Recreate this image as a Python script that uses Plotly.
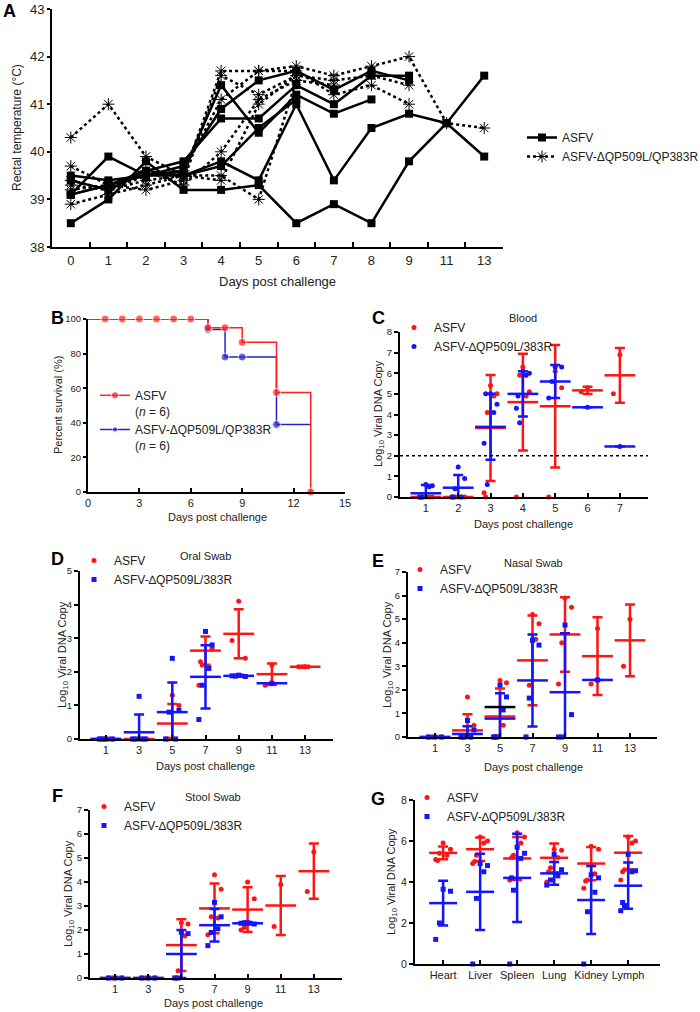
import numpy as np
import plotly.graph_objects as go

FONT = "Liberation Sans, Arial, sans-serif"
RED = "#ff1414"
BLUE = "#1414ff"
SURV_RED = "#ff2020"
SURV_BLUE = "#2323c8"
W, H = 700, 1012


def px(x):
    return x / W


def py(y):
    return 1 - y / H


# ---------------- A: rectal temperature ----------------
temp_days = ["0", "1", "2", "3", "4", "5", "6", "7", "8", "9", "11", "13"]
asfv_temps = [
    [39.1, 39.3, 39.5, 39.6, 41.4, 40.4, 41.2, 40.8, 41.1, None, None, None],
    [39.5, 39.4, 39.5, 39.7, 40.9, 41.5, 41.7, 41.3, 41.7, 41.5, None, None],
    [39.4, 39.2, 39.6, 39.8, 40.7, 40.7, 41.4, 41.0, 41.6, 41.6, None, None],
    [39.1, 39.9, 39.5, 39.5, 39.8, 39.4, 41.0, 39.4, 40.5, 40.8, 40.6, 39.9],
    [38.5, 39.0, 39.8, 39.2, 39.2, 39.3, 38.5, 38.9, 38.5, 39.8, 40.6, 41.6],
    [39.1, 39.3, 39.6, 39.5, 39.7, 40.5, 41.1, None, None, None, None, None],
]
mut_temps = [
    [40.3, 41.0, 39.9, 39.5, 41.7, 41.7, 41.8, 41.6, 41.8, 42.0, 40.6, 40.5],
    [39.7, 39.3, 39.2, 39.4, 41.6, 41.2, 41.6, 41.5, 41.6, 41.4, None, None],
    [39.4, 39.2, 39.5, 39.6, 41.1, 41.7, 41.7, 41.2, 41.4, 41.0, None, None],
    [39.2, 39.3, 39.6, 39.3, 40.0, 41.1, 41.5, 41.4, None, None, None, None],
    [38.9, 39.1, 39.3, 39.5, 39.5, 39.0, 41.5, None, None, None, None, None],
    [39.3, 39.2, 39.4, 39.5, 39.4, 41.0, 41.6, None, None, None, None, None],
]

# ---------------- B: survival ----------------
surv_asfv_days = [0, 1, 2, 3, 4, 5, 6, 7, 8, 9, 11, 13]
surv_asfv = [100, 100, 100, 100, 100, 100, 100, 95, 95, 86.5, 57.5, 0]
surv_mut_days = [0, 7, 8, 9, 11, 13]
surv_mut = [100, 94, 78, 78, 39, 39]

# ---------------- C: blood ----------------
blood_days = ["1", "2", "3", "4", "5", "6", "7"]
blood_asfv_pts = [[0, 0, 0, 0, 0, 0], [0, 0, 0, 0, 0, 0], [5.4, 0.2, 5.0, 4.1, 4.9, 0],
                  [6.3, 0, 5.1, 5.9, 4.9], [6.1, 0, 5.3], [5.3, 5.1], [6.9, 5.0]]
blood_asfv_mean = [0, 0, 3.35, 4.6, 4.4, 5.17, 5.9]
blood_asfv_sd = [0, 0, 2.57, 2.35, 2.97, 0.18, 1.33]
blood_mut_pts = [[0.6, 0, 0.55, 0, 0.5, 0], [1.45, 0, 0.9, 0.4, 0, 0], [5.0, 2.6, 4.5, 0.6, 4.1, 5.0],
                 [6.1, 4.3, 6.0, 3.6, 5.9, 4.9], [6.3, 4.8, 6.3, 5.6], [4.35], [2.45]]
blood_mut_mean = [0.18, 0.45, 3.4, 5.0, 5.6, 4.35, 2.45]
blood_mut_sd = [0.4, 0.62, 1.6, 1.1, 0.8, 0, 0]
blood_cutoff = 2

# ---------------- D: oral swab ----------------
swab_days = ["1", "3", "5", "7", "9", "11", "13"]
oral_asfv_pts = [[0, 0, 0, 0, 0, 0], [0, 0, 0, 0, 0], [1.3, 0, 1.0, 0, 0, 0],
                 [3.2, 1.6, 2.7, 2.2, 2.15, 2.3], [4.1, 2.93, 2.4], [2.2, 1.6], [2.15, 2.15]]
oral_asfv_mean = [0, 0, 0.46, 2.63, 3.13, 1.93, 2.15]
oral_asfv_sd = [0, 0, 0.58, 0.42, 0.73, 0.32, 0.03]
oral_mut_pts = [[0, 0, 0, 0], [1.27, 0, 0, 0, 0], [2.4, 0, 0.85, 0.8, 0],
                [3.2, 0.58, 2.8, 1.6, 2.1], [1.9, 1.88, 1.86, 1.87], [1.66], []]
oral_mut_mean = [0, 0.2, 0.8, 1.85, 1.88, 1.66, None]
oral_mut_sd = [0, 0.53, 0.88, 0.94, 0.03, 0, 0]

# ---------------- E: nasal swab ----------------
nasal_asfv_pts = [[0, 0, 0, 0], [1.7, 0, 0.5, 0, 0, 0], [2.4, 0, 2.3, 0, 0.5, 0],
                  [5.2, 0, 4.8, 2.2, 4.15], [5.9, 2.25, 5.5, 4.0], [4.6, 2.25], [5.0, 3.0]]
nasal_asfv_mean = [0, 0.28, 0.87, 3.25, 4.35, 3.43, 4.1]
nasal_asfv_sd = [0, 0.69, 1.19, 1.9, 1.58, 1.65, 1.52]
nasal_mut_pts = [[0, 0, 0], [0.7, 0, 0.3, 0, 0], [2.2, 0, 1.7, 0, 1.15, 0],
                 [4.1, 0, 3.9, 1.65], [4.75, 0, 0.95, 0], [2.42], []]
nasal_mut_mean = [0, 0.13, 0.78, 2.4, 1.9, 2.42, None]
nasal_mut_sd = [0, 0.33, 1.08, 1.95, 2.5, 0, 0]
nasal_pooled_mean = [None, None, 1.27, None, None, None, None]

# ---------------- F: stool swab ----------------
stool_asfv_pts = [[0, 0, 0, 0], [0, 0, 0, 0], [2.3, 0, 2.25, 0.3, 1.75, 0],
                  [4.3, 1.8, 3.7, 2.55, 2.5], [4.0, 2.0, 3.3, 2.1], [3.9, 2.15], [5.25, 3.6]]
stool_asfv_mean = [0, 0, 1.37, 2.9, 2.85, 3.02, 4.45]
stool_asfv_sd = [0, 0, 1.08, 1.04, 0.93, 1.23, 1.15]
stool_mut_pts = [[0, 0, 0], [0, 0, 0], [1.9, 0, 1.85, 0],
                 [3.15, 1.35, 2.55, 1.9, 2.05], [2.3, 2.28, 2.25, 2.3], [], []]
stool_mut_mean = [0, 0, 1.0, 2.2, 2.28, None, None]
stool_mut_sd = [0, 0, 1.0, 0.68, 0.05, 0, 0]

# ---------------- G: tissues ----------------
tissues = ["Heart", "Liver", "Spleen", "Lung", "Kidney", "Lymph"]
tissue_asfv_pts = [[5.9, 5.1, 5.6, 5.4, 5.3, 5.05], [6.2, 4.9, 6.0, 5.3, 5.9, 5.0],
                   [6.4, 4.1, 6.2, 5.3, 5.9, 5.2], [5.6, 4.0, 5.55, 4.7, 5.2, 4.5],
                   [5.75, 3.7, 5.6, 4.1, 4.4, 4.05], [6.2, 4.1, 6.0, 4.6, 5.9, 4.5]]
tissue_asfv_mean = [5.42, 5.6, 5.15, 5.18, 4.9, 5.43]
tissue_asfv_sd = [0.31, 0.57, 1.05, 0.7, 0.81, 0.81]
tissue_mut_pts = [[3.65, 1.2, 3.55, 2.0], [4.9, 0, 4.8, 3.2, 4.5], [5.7, 0, 5.4, 3.6, 5.15, 4.2],
                  [5.35, 3.85, 4.6, 4.1, 4.3], [4.35, 0, 4.2, 2.55, 3.5], [5.35, 2.6, 4.55, 2.85, 4.5, 3.0]]
tissue_mut_mean = [2.97, 3.52, 4.2, 4.42, 3.12, 3.82]
tissue_mut_sd = [1.09, 1.86, 2.15, 0.56, 1.66, 1.13]

ASFV_NAME = "ASFV"
MUT_NAME = "ASFV-∆QP509L/383R"

fig = go.Figure()

# ---- A traces (mutants first so solid lines sit on top) ----
for i, vals in enumerate(mut_temps):
    fig.add_trace(go.Scatter(
        x=temp_days, y=vals, mode="lines+markers", name="ASFV-ΔQP509L/QP383R",
        line=dict(color="black", width=2.5, dash="dot"),
        marker=dict(symbol="asterisk-open", size=10, line=dict(color="black", width=1)),
        xaxis="x", yaxis="y", legend="legend", legendrank=2, showlegend=(i == 0),
        legendgroup="mutA", cliponaxis=False))
for i, vals in enumerate(asfv_temps):
    fig.add_trace(go.Scatter(
        x=temp_days, y=vals, mode="lines+markers", name="ASFV",
        line=dict(color="black", width=2.5),
        marker=dict(symbol="square", size=8, color="black"),
        xaxis="x", yaxis="y", legend="legend", legendrank=1, showlegend=(i == 0),
        legendgroup="asfvA", cliponaxis=False))

# ---- B traces ----
fig.add_trace(go.Scatter(
    x=surv_mut_days, y=surv_mut, mode="lines+markers", line_shape="hv",
    name="ASFV-ΔQP509L/QP383R<br>(<i>n</i> = 6)",
    line=dict(color=SURV_BLUE, width=1.5),
    marker=dict(size=[0, 8, 8, 8, 8, 0], color=SURV_BLUE),
    xaxis="x2", yaxis="y2", legend="legend2", legendrank=2, cliponaxis=False))
fig.add_trace(go.Scatter(
    x=surv_asfv_days, y=surv_asfv, mode="lines+markers", line_shape="hv",
    name="ASFV<br>(<i>n</i> = 6)",
    line=dict(color=SURV_RED, width=1.5),
    marker=dict(size=[0] + [8] * (len(surv_asfv) - 1), color=SURV_RED),
    xaxis="x2", yaxis="y2", legend="legend2", legendrank=1, cliponaxis=False))

# ---- dot + mean/SD panels ----
SPREAD = [0, -1, 1, -0.5, 0.5, -0.75, 0.75, -0.25, 0.25]


def jittered(groups, s):
    xs, ys = [], []
    for k, pts in enumerate(groups):
        for j, v in enumerate(pts):
            xs.append(k + SPREAD[j] * s)
            ys.append(v)
    return xs, ys


def add_group(n, groups, mean, sd, color, name, symbol, barw, leg):
    xs, ys = jittered(groups, 0.2)
    fig.add_trace(go.Scatter(
        x=xs, y=ys, mode="markers", name=name,
        marker=dict(symbol=symbol, size=5, color=color),
        xaxis="x%d" % n, yaxis="y%d" % n, legend=leg, cliponaxis=False))
    fig.add_trace(go.Scatter(
        x=list(range(len(mean))), y=mean, mode="markers", showlegend=False,
        marker=dict(symbol="line-ew", size=barw, line=dict(color=color, width=2.5)),
        error_y=dict(type="data", array=sd, color=color, thickness=2.5, width=5),
        xaxis="x%d" % n, yaxis="y%d" % n))


panels = [
    (3, blood_asfv_pts, blood_asfv_mean, blood_asfv_sd, blood_mut_pts, blood_mut_mean, blood_mut_sd, "circle", 22),
    (4, oral_asfv_pts, oral_asfv_mean, oral_asfv_sd, oral_mut_pts, oral_mut_mean, oral_mut_sd, "square", 22),
    (5, nasal_asfv_pts, nasal_asfv_mean, nasal_asfv_sd, nasal_mut_pts, nasal_mut_mean, nasal_mut_sd, "square", 22),
    (6, stool_asfv_pts, stool_asfv_mean, stool_asfv_sd, stool_mut_pts, stool_mut_mean, stool_mut_sd, "square", 22),
    (7, tissue_asfv_pts, tissue_asfv_mean, tissue_asfv_sd, tissue_mut_pts, tissue_mut_mean, tissue_mut_sd, "square", 20),
]
for n, ap, am, asd, mp, mm, msd, sym, bw in panels:
    leg = "legend%d" % n
    add_group(n, ap, am, asd, RED, ASFV_NAME, "circle", bw, leg)
    add_group(n, mp, mm, msd, BLUE, MUT_NAME, sym, bw, leg)

# black pooled mean bar seen in the nasal panel
fig.add_trace(go.Scatter(
    x=list(range(len(nasal_pooled_mean))), y=nasal_pooled_mean, mode="markers", showlegend=False,
    marker=dict(symbol="line-ew", size=22, line=dict(color="black", width=2.5)),
    xaxis="x5", yaxis="y5"))


# ---------------- axes ----------------
def xaxis_cfg(dom, anchor, rng, tickvals=None, ticktext=None, fs=11, **kw):
    d = dict(domain=dom, anchor=anchor, range=rng, showline=True, linecolor="black", linewidth=2,
             ticks="inside", ticklen=4, tickwidth=2, tickcolor="black", showgrid=False,
             zeroline=False, tickfont=dict(family=FONT, size=fs, color="#222"), fixedrange=True,
             tickangle=0, automargin=False)
    if tickvals is not None:
        d.update(tickmode="array", tickvals=tickvals, ticktext=ticktext)
    d.update(kw)
    return d


def yaxis_cfg(dom, anchor, rng, dtick, fs=9.5, **kw):
    d = dict(domain=dom, anchor=anchor, range=rng, dtick=dtick, showline=True, linecolor="black",
             linewidth=2, ticks="outside", ticklen=4, tickwidth=2, tickcolor="black",
             showgrid=False, zeroline=False, tickfont=dict(family=FONT, size=fs, color="#222"),
             fixedrange=True, automargin=False)
    d.update(kw)
    return d


def idx(n):
    return list(range(n))


layout = dict(
    width=W, height=H, margin=dict(l=0, r=0, t=0, b=0, autoexpand=False),
    paper_bgcolor="white", plot_bgcolor="white",
    font=dict(family=FONT, color="#222"),
    xaxis=xaxis_cfg([px(52), px(503)], "y", [-0.5, 11.5], fs=13, type="category",
                    tickson="boundaries", ticklen=5),
    yaxis=yaxis_cfg([py(247), py(9)], "x", [38, 43], 1, fs=13, ticklen=3),
    xaxis2=xaxis_cfg([px(88), px(345)], "y2", [0, 15], fs=11, dtick=3),
    yaxis2=yaxis_cfg([py(492), py(319)], "x2", [0, 100], 20, fs=9.5, ticklen=3),
    xaxis3=xaxis_cfg([px(400), px(648)], "y3", [-0.8, 6.87], idx(7), blood_days),
    yaxis3=yaxis_cfg([py(497), py(332)], "x3", [0, 8], 1),
    xaxis4=xaxis_cfg([px(80), px(333)], "y4", [-0.78, 6.84], idx(7), swab_days),
    yaxis4=yaxis_cfg([py(739), py(571)], "x4", [0, 5], 1),
    xaxis5=xaxis_cfg([px(408), px(657)], "y5", [-0.83, 6.83], idx(7), swab_days),
    yaxis5=yaxis_cfg([py(737), py(572)], "x5", [0, 7], 1),
    xaxis6=xaxis_cfg([px(90), px(342)], "y6", [-0.76, 6.85], idx(7), swab_days),
    yaxis6=yaxis_cfg([py(978), py(810)], "x6", [0, 7], 1),
    xaxis7=xaxis_cfg([px(415), px(660)], "y7", [-0.76, 5.86], idx(6), tissues),
    yaxis7=yaxis_cfg([py(964), py(800)], "x7", [0, 8], 2, fs=10.5),
)


def legend_cfg(x, y, fs=12, **kw):
    d = dict(x=px(x), y=py(y), xanchor="left", yanchor="top", bgcolor="rgba(0,0,0,0)",
             font=dict(family=FONT, size=fs, color="#222"), tracegroupgap=0)
    d.update(kw)
    return d


layout["legend"] = legend_cfg(522, 123, fs=12)
layout["legend2"] = legend_cfg(95, 381, fs=12, valign="top")
layout["legend3"] = legend_cfg(394, 313, fs=12)
layout["legend4"] = legend_cfg(74, 546, fs=12)
layout["legend5"] = legend_cfg(400, 555, fs=12)
layout["legend6"] = legend_cfg(84, 792, fs=12)
layout["legend7"] = legend_cfg(407, 783, fs=12)

fig.update_layout(**layout)

# dotted detection limit line in the blood panel
fig.add_shape(type="line", xref="x3 domain", yref="y3", x0=0, x1=1,
              y0=blood_cutoff, y1=blood_cutoff, line=dict(color="black", width=1.5, dash="dot"))


# ---------------- text ----------------
def note(text, x, y, size=11, angle=0, bold=False):
    fig.add_annotation(text="<b>%s</b>" % text if bold else text, x=px(x), y=py(y),
                       xref="paper", yref="paper", showarrow=False, textangle=angle,
                       xanchor="center", yanchor="middle",
                       font=dict(family=FONT, size=size, color="black" if bold else "#222"))


for letter, x, y in [("A", 9, 11), ("B", 57, 318), ("C", 378, 318), ("D", 58, 559),
                     ("E", 378, 561), ("F", 58, 796), ("G", 378, 799)]:
    note(letter, x, y, size=18, bold=True)

note("Blood", 523, 318, 11)
note("Oral Swab", 205, 556, 11)
note("Nasal Swab", 533, 563, 11)
note("Stool Swab", 213, 797, 11)

note("Days post challenge", 277, 281, 13)
note("Days post challenge", 217, 517, 11)
note("Days post challenge", 523, 524, 11)
note("Days post challenge", 205, 766, 11)
note("Days post challenge", 533, 767, 11)
note("Days post challenge", 213, 1003, 11)

note("Rectal temperature (°C)", 17, 128, 12, angle=-90)
note("Percent survival (%)", 58, 405, 11, angle=-90)
LOG = "Log<sub>10</sub> Viral DNA Copy"
note(LOG, 379, 414, 11, angle=-90)
note(LOG, 63, 655, 11, angle=-90)
note(LOG, 388, 655, 11, angle=-90)
note(LOG, 69, 894, 11, angle=-90)
note(LOG, 392, 882, 11, angle=-90)

# the page's default body margin would shift the figure by 8px
fig.write_html("out.html", config={"displayModeBar": False},
               post_script="document.body.style.margin='0px';")
